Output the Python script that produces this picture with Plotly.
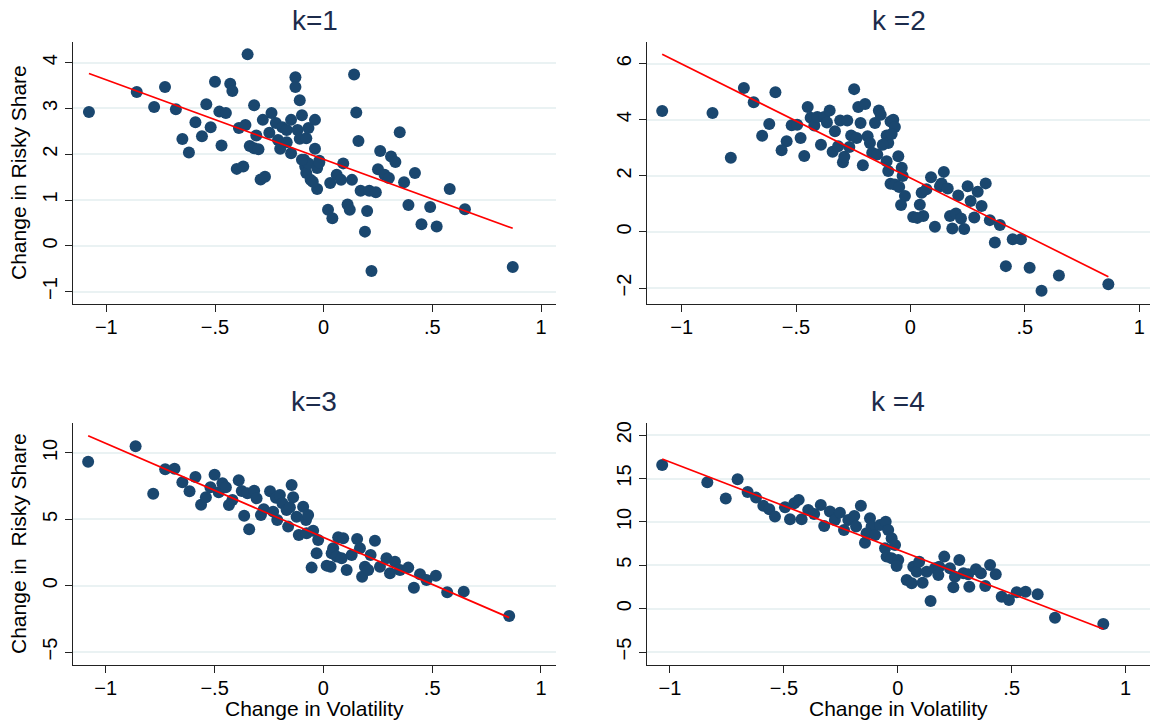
import plotly.graph_objects as go

# ---------------- data ----------------
titles = ["k=1", "k =2", "k=3", "k =4"]
y_titles = ["Change in Risky Share", None, "Change in\u00a0 Risky Share", None]
x_title = "Change in Volatility"

pts_k1 = [(-1.08, 2.92), (-0.86, 3.36), (-0.78, 3.03), (-0.73, 3.47), (-0.68, 2.98), (-0.65, 2.33),
          (-0.62, 2.04), (-0.59, 2.70), (-0.56, 2.39), (-0.54, 3.09), (-0.52, 2.59), (-0.50, 3.58),
          (-0.48, 2.93), (-0.45, 2.90), (-0.47, 2.19), (-0.43, 3.54), (-0.42, 3.38), (-0.40, 1.68),
          (-0.37, 1.73), (-0.39, 2.57), (-0.36, 2.64), (-0.35, 4.18), (-0.32, 3.07), (-0.34, 2.18),
          (-0.32, 2.13), (-0.30, 2.11), (-0.31, 2.41), (-0.29, 1.45), (-0.27, 1.51), (-0.28, 2.75),
          (-0.24, 2.90), (-0.25, 2.47), (-0.22, 2.68), (-0.21, 2.31), (-0.20, 2.12), (-0.19, 2.59),
          (-0.17, 2.26), (-0.15, 2.02), (-0.17, 2.53), (-0.15, 2.75), (-0.12, 2.53), (-0.13, 3.68),
          (-0.13, 3.47), (-0.11, 3.18), (-0.10, 2.85), (-0.11, 2.34), (-0.08, 2.35), (-0.07, 2.57),
          (-0.09, 1.88), (-0.085, 1.73), (-0.08, 1.59), (-0.06, 1.44), (-0.04, 2.75), (-0.04, 2.12),
          (-0.02, 1.86), (-0.07, 1.80), (-0.03, 1.70), (-0.03, 1.24), (-0.10, 1.88), (-0.05, 1.40),
          (-0.02, 1.82), (0.02, 0.79), (0.04, 0.60), (0.03, 1.37), (0.06, 1.55), (0.09, 1.80),
          (0.08, 1.44), (0.11, 0.90), (0.12, 0.79), (0.13, 1.44), (0.14, 3.74), (0.15, 2.91),
          (0.16, 2.29), (0.17, 1.20), (0.21, 1.20), (0.24, 1.17), (0.20, 0.76), (0.19, 0.31),
          (0.22, -0.55), (0.26, 2.07), (0.31, 1.95), (0.33, 1.83), (0.25, 1.67), (0.28, 1.55),
          (0.30, 1.48), (0.37, 1.39), (0.35, 2.48), (0.42, 1.59), (0.39, 0.89), (0.49, 0.85),
          (0.45, 0.47), (0.52, 0.42), (0.58, 1.24), (0.65, 0.80), (0.87, -0.46)]

pts_k2 = [(-1.085, 4.31), (-0.865, 4.24), (-0.785, 2.64), (-0.728, 5.13), (-0.685, 4.62), (-0.59, 4.98),
          (-0.617, 3.85), (-0.648, 3.43), (-0.541, 3.23), (-0.563, 2.91), (-0.519, 3.80), (-0.495, 3.82),
          (-0.48, 3.35), (-0.464, 2.71), (-0.449, 4.45), (-0.436, 4.07), (-0.42, 3.79), (-0.407, 4.10),
          (-0.391, 3.11), (-0.377, 4.10), (-0.353, 4.33), (-0.365, 3.90), (-0.33, 3.59), (-0.34, 2.86),
          (-0.316, 3.05), (-0.307, 3.97), (-0.276, 3.97), (-0.295, 2.48), (-0.289, 2.68), (-0.259, 3.44),
          (-0.267, 3.03), (-0.246, 5.09), (-0.228, 4.45), (-0.198, 4.56), (-0.218, 3.88), (-0.235, 3.35),
          (-0.208, 2.38), (-0.187, 3.41), (-0.177, 3.17), (-0.155, 3.88), (-0.138, 4.33), (-0.13, 4.18),
          (-0.167, 2.82), (-0.145, 2.76), (-0.104, 3.44), (-0.097, 3.17), (-0.121, 3.11), (-0.104, 2.52),
          (-0.097, 2.17), (-0.087, 3.94), (-0.087, 1.72), (-0.075, 4.00), (-0.068, 3.74), (-0.082, 3.49),
          (-0.053, 2.70), (-0.038, 2.29), (-0.034, 1.99), (-0.068, 1.69), (-0.049, 1.60), (-0.024, 1.28),
          (-0.041, 0.96), (0.041, 0.97), (0.049, 1.40), (0.07, 1.52), (0.09, 1.95), (0.129, 1.63),
          (0.136, 1.73), (0.163, 1.55), (0.146, 2.14), (0.012, 0.53), (0.056, 0.57), (0.03, 0.50),
          (0.107, 0.18), (0.173, 0.57), (0.199, 0.66), (0.221, 0.48), (0.183, 0.12), (0.235, 0.10),
          (0.209, 1.30), (0.25, 1.63), (0.263, 1.10), (0.294, 1.43), (0.311, 0.92), (0.279, 0.51),
          (0.329, 1.73), (0.347, 0.42), (0.391, 0.25), (0.369, -0.38), (0.447, -0.26), (0.483, -0.26),
          (0.417, -1.22), (0.521, -1.28), (0.649, -1.55), (0.573, -2.10), (0.865, -1.87)]

pts_k3 = [(-1.081, 9.34), (-0.863, 10.50), (-0.782, 6.93), (-0.727, 8.77), (-0.684, 8.82), (-0.648, 7.79),
          (-0.615, 7.11), (-0.588, 8.19), (-0.562, 6.10), (-0.54, 6.66), (-0.519, 7.42), (-0.50, 8.36),
          (-0.481, 7.04), (-0.464, 7.72), (-0.448, 7.42), (-0.434, 6.08), (-0.418, 6.46), (-0.389, 7.94),
          (-0.375, 7.14), (-0.364, 5.27), (-0.341, 4.25), (-0.349, 6.96), (-0.318, 7.16), (-0.307, 6.58),
          (-0.287, 5.33), (-0.274, 5.76), (-0.245, 7.11), (-0.231, 5.58), (-0.218, 6.63), (-0.212, 4.95),
          (-0.20, 6.83), (-0.188, 6.21), (-0.169, 5.70), (-0.162, 4.45), (-0.146, 7.59), (-0.139, 6.66),
          (-0.154, 5.91), (-0.123, 5.20), (-0.113, 3.82), (-0.093, 5.95), (-0.08, 4.95), (-0.077, 3.95),
          (-0.054, 1.36), (-0.07, 5.33), (-0.047, 4.14), (-0.024, 3.44), (-0.031, 2.44), (0.015, 1.51),
          (0.033, 1.43), (0.068, 3.65), (0.091, 3.57), (0.045, 2.82), (0.038, 2.44), (0.061, 2.19),
          (0.084, 2.06), (0.107, 1.18), (0.13, 2.31), (0.155, 3.52), (0.168, 2.82), (0.217, 2.31),
          (0.237, 3.39), (0.191, 1.43), (0.178, 0.68), (0.206, 1.18), (0.26, 1.43), (0.29, 2.06),
          (0.329, 1.81), (0.306, 0.93), (0.352, 1.18), (0.39, 1.36), (0.416, -0.15), (0.444, 0.86),
          (0.474, 0.43), (0.517, 0.75), (0.569, -0.50), (0.645, -0.45), (0.854, -2.28)]

pts_k4 = [(-1.034, 16.57), (-0.836, 14.58), (-0.755, 12.69), (-0.703, 14.92), (-0.659, 13.46),
          (-0.622, 12.80), (-0.590, 11.85), (-0.564, 11.46), (-0.539, 10.61), (-0.495, 11.70),
          (-0.473, 10.31), (-0.454, 12.16), (-0.435, 12.54), (-0.422, 10.31), (-0.393, 11.38),
          (-0.367, 10.92), (-0.338, 11.96), (-0.323, 9.54), (-0.298, 11.19), (-0.276, 10.23),
          (-0.254, 11.07), (-0.236, 9.08), (-0.217, 10.23), (-0.191, 10.69), (-0.183, 9.46),
          (-0.162, 11.85), (-0.144, 7.61), (-0.122, 10.43), (-0.115, 9.46), (-0.137, 8.70),
          (-0.100, 8.50), (-0.078, 9.65), (-0.053, 10.03), (-0.056, 6.97), (-0.049, 6.00),
          (-0.042, 9.08), (-0.027, 8.12), (-0.012, 7.35), (-0.027, 5.81), (0.002, 5.62),
          (-0.005, 4.93), (0.039, 3.31), (0.061, 2.93), (0.068, 4.84), (0.083, 4.27), (0.094, 5.42),
          (0.109, 3.00), (0.144, 0.89), (0.127, 4.27), (0.163, 4.66), (0.182, 4.84), (0.178, 3.89),
          (0.204, 6.00), (0.229, 4.66), (0.244, 2.47), (0.251, 3.69), (0.270, 5.62), (0.288, 4.08),
          (0.314, 2.54), (0.309, 3.97), (0.343, 4.54), (0.365, 4.08), (0.384, 2.62), (0.405, 5.04),
          (0.430, 3.97), (0.456, 1.38), (0.488, 1.00), (0.522, 1.89), (0.561, 1.96), (0.614, 1.66),
          (0.690, -1.04), (0.902, -1.76)]

# fitted lines (intercept, slope)
fit_intercepts = [1.89, 1.92, 3.64, 6.79]
fit_slopes = [-1.733, -4.066, -7.085, -10.12]

x_tickvals = [-1, -0.5, 0, 0.5, 1]
x_ticktext = ["\u22121", "\u2212.5", "0", ".5", "1"]
y_tickvals = [[-1, 0, 1, 2, 3, 4], [-2, 0, 2, 4, 6], [-5, 0, 5, 10], [-5, 0, 5, 10, 15, 20]]
y_ticktext = [["\u22121", "0", "1", "2", "3", "4"], ["\u22122", "0", "2", "4", "6"],
              ["\u22125", "0", "5", "10"], ["\u22125", "0", "5", "10", "15", "20"]]
x_ranges = [[-1.152, 1.069], [-1.150, 1.047], [-1.152, 1.069], [-1.102, 1.107]]
y_ranges = [[-1.27, 4.45], [-2.57, 6.77], [-5.98, 12.26], [-6.49, 21.4]]

# ---------------- layout ----------------
W, H = 1156, 724
# plot boxes in pixels: (left, right, top, bottom)
boxes = [(73.3, 556, 42, 304), (647.3, 1150, 42, 304), (72.7, 556, 423, 665), (646.7, 1150, 423, 665)]

NAVY = "#1a476f"
FONT = "Liberation Sans, Arial, sans-serif"
TITLE_COLOR = "#1c2b4b"

fig = go.Figure()
layout = dict(width=W, height=H, paper_bgcolor="white", plot_bgcolor="white",
              margin=dict(l=0, r=0, t=0, b=0, pad=0), showlegend=False,
              font=dict(family=FONT, color="black"))
annotations = []
all_pts = [pts_k1, pts_k2, pts_k3, pts_k4]

for i, pts in enumerate(all_pts):
    n = i + 1
    xs = [p[0] for p in pts]
    ys = [p[1] for p in pts]
    xa = "x" if n == 1 else f"x{n}"
    ya = "y" if n == 1 else f"y{n}"
    fig.add_trace(go.Scatter(x=xs, y=ys, mode="markers", xaxis=xa, yaxis=ya,
                             marker=dict(color=NAVY, size=12, line=dict(width=0)),
                             hoverinfo="skip"))
    lx = [min(xs), max(xs)]
    ly = [fit_intercepts[i] + fit_slopes[i] * v for v in lx]
    fig.add_trace(go.Scatter(x=lx, y=ly, mode="lines", xaxis=xa, yaxis=ya,
                             line=dict(color="red", width=1.7), hoverinfo="skip"))
    l, r, t, b = boxes[i]
    dx = [l / W, r / W]
    dy = [(H - b) / H, (H - t) / H]
    layout[f"xaxis{'' if n == 1 else n}"] = dict(
        domain=dx, anchor=ya, range=x_ranges[i], tickvals=x_tickvals, ticktext=x_ticktext,
        showgrid=False, zeroline=False, showline=True, linecolor="#222", linewidth=1.3,
        ticks="outside", ticklen=7, tickwidth=1.3, tickcolor="#222", ticklabelstandoff=-2,
        tickfont=dict(size=20, family=FONT, color="black"), automargin=False)
    layout[f"yaxis{'' if n == 1 else n}"] = dict(
        domain=dy, anchor=xa, range=y_ranges[i], tickvals=y_tickvals[i], ticktext=y_ticktext[i],
        showgrid=True, gridcolor="#eaf2f3", gridwidth=1.5, zeroline=False,
        showline=True, linecolor="#222", linewidth=1.3,
        ticks="outside", ticklen=7, tickwidth=1.3, tickcolor="#222", tickangle=-90,
        tickfont=dict(size=20, family=FONT, color="black"), automargin=False)
    # panel title
    annotations.append(dict(text=titles[i], xref="paper", yref="paper",
                            x=(l + r) / 2 / W, y=(H - t + 22) / H, xanchor="center", yanchor="middle",
                            showarrow=False, font=dict(size=28, family=FONT, color=TITLE_COLOR)))
    if y_titles[i]:
        annotations.append(dict(text=y_titles[i], xref="paper", yref="paper",
                                x=18 / W, y=(H - (t + b) / 2) / H, xanchor="center", yanchor="middle",
                                textangle=-90, showarrow=False,
                                font=dict(size=21, family=FONT, color="black")))
    if n >= 3:
        annotations.append(dict(text=x_title, xref="paper", yref="paper",
                                x=(l + r) / 2 / W, y=(H - 708) / H, xanchor="center", yanchor="middle",
                                showarrow=False, font=dict(size=21, family=FONT, color="black")))

layout["annotations"] = annotations
fig.update_layout(**layout)
fig.write_html("out.html", config={"displayModeBar": False},
               post_script="document.body.style.margin='0';")
